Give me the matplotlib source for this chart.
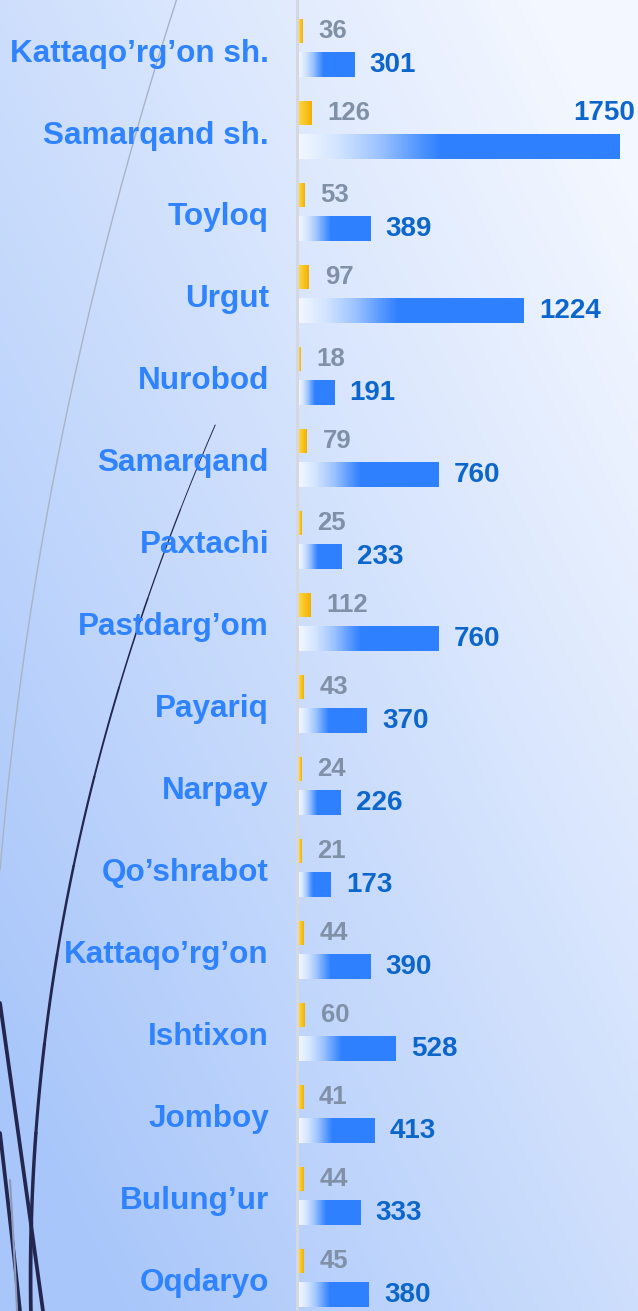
import numpy as np
import matplotlib
matplotlib.use("Agg")
import matplotlib.pyplot as plt
from matplotlib.colors import LinearSegmentedColormap

plt.rcParams['font.family'] = ['Liberation Sans', 'DejaVu Sans']
plt.rcParams['font.weight'] = 'bold'

# data
districts = ["Kattaqo’rg’on sh.", "Samarqand sh.", "Toyloq", "Urgut", "Nurobod",
             "Samarqand", "Paxtachi", "Pastdarg’om", "Payariq", "Narpay",
             "Qo’shrabot", "Kattaqo’rg’on", "Ishtixon", "Jomboy", "Bulung’ur", "Oqdaryo"]
small_vals = [36, 126, 53, 97, 18, 79, 25, 112, 43, 24, 21, 44, 60, 41, 44, 45]
big_vals = [301, 1750, 389, 1224, 191, 760, 233, 760, 370, 226, 173, 390, 528, 413, 333, 380]

W, H = 638, 1311
fig = plt.figure(figsize=(W / 100, H / 100), dpi=100)

# background gradient + decorative curves (pixel coords)
bg = fig.add_axes([0, 0, 1, 1], zorder=0)
yy, xx = np.mgrid[0:H:4, 0:W:4]
t = 0.6 * (yy / H) + 0.6 * (1 - xx / W) - 0.1
t = np.clip(t, 0, 1)[..., None]
light = np.array([243, 247, 255]) / 255
deep = np.array([168, 198, 250]) / 255
bg.imshow(light * (1 - t) + deep * t, extent=[0, W, H, 0], aspect='auto')
bg.set_xlim(0, W)
bg.set_ylim(H, 0)
bg.axis('off')

def curve(px, py, lw0, lw1, color, parts=10):
    ys = np.linspace(py[0], py[-1], 200)
    xs = np.polyval(np.polyfit(py, px, 2), ys)
    idx = np.linspace(0, len(ys) - 1, parts + 1).astype(int)
    for k in range(parts):
        a, b = idx[k], idx[k + 1] + 1
        bg.plot(xs[a:b], ys[a:b], color=color, solid_capstyle='round',
                lw=lw0 + (lw1 - lw0) * k / max(parts - 1, 1))

curve([177, 133, 70, 0], [0, 140, 400, 870], 1.0, 1.3, '#A9B3C6', parts=1)
curve([213, 173, 127, 90, 67, 47, 37, 33, 32],
      [425, 533, 667, 800, 900, 1000, 1100, 1200, 1311], 0.7, 2.7, '#23264F')
curve([0, 22, 43], [1003, 1160, 1311], 2.7, 2.7, '#23264F', parts=1)
curve([0, 10, 20], [1133, 1220, 1311], 2.7, 2.7, '#23264F', parts=1)
curve([10, 14, 17], [1180, 1250, 1311], 1.5, 1.5, '#8C9AB8', parts=1)

# main axes
ax = fig.add_axes([299 / W, 0, 339 / W, 1], zorder=1)
ax.patch.set_alpha(0)
ax2 = ax.twiny()
ax2.patch.set_alpha(0)

n = len(districts)
y = np.arange(n)
y_small = y - 0.23
y_big = y + 0.18

blue_cmap = LinearSegmentedColormap.from_list(
    'bb', [(0, '#F2F7FF'), (0.12, '#D2E4FF'), (0.25, '#9CC3FF'),
           (0.36, '#5A9BFF'), (0.44, '#2F80FF'), (1, '#2F80FF')])
gold_cmap = LinearSegmentedColormap.from_list('gg', ['#FFD640', '#F2B000'])
grad = np.linspace(0, 1, 256)[None, :]

big_bars = ax.barh(y_big, big_vals, height=0.30, color='none', edgecolor='none')
for b in big_bars:
    x0, y0, w, h = b.get_x(), b.get_y(), b.get_width(), b.get_height()
    im = ax.imshow(grad, extent=[x0, x0 + w, y0 + h, y0], aspect='auto',
                   cmap=blue_cmap, interpolation='bilinear', zorder=2)
    im.set_clip_path(b)

small_bars = ax2.barh(y_small, small_vals, height=0.29, color='none', edgecolor='none')
for b in small_bars:
    x0, y0, w, h = b.get_x(), b.get_y(), b.get_width(), b.get_height()
    im = ax2.imshow(grad, extent=[x0, x0 + w, y0 + h, y0], aspect='auto',
                    cmap=gold_cmap, interpolation='bilinear', zorder=2)
    im.set_clip_path(b)

ax.set_xlim(0, 339 / 0.1834)
ax2.set_xlim(0, 3390)
ax.set_ylim(15.38, -0.61)

imax = int(np.argmax(big_vals))
for i in range(n):
    if i == imax:
        ax.annotate(str(big_vals[i]), xy=(big_vals[i], y_small[i]), xytext=(11, 0),
                    textcoords='offset points', ha='right', va='center',
                    fontsize=20, color='#0C66CC')
    else:
        ax.annotate(str(big_vals[i]), xy=(big_vals[i], y_big[i]), xytext=(11, 0),
                    textcoords='offset points', ha='left', va='center',
                    fontsize=20, color='#0C66CC')
    ax2.annotate(str(small_vals[i]), xy=(small_vals[i], y_small[i]), xytext=(11.5, 0),
                 textcoords='offset points', ha='left', va='center',
                 fontsize=18.5, color='#8090A6')

ax.set_yticks(y, districts)
ax.tick_params(axis='y', length=0, pad=19.8, labelsize=22.7, labelcolor='#3083FF')
ax.set_xticks([])
ax2.set_xticks([])
for a in (ax, ax2):
    for s in ('top', 'right', 'bottom'):
        a.spines[s].set_visible(False)
ax2.spines['left'].set_visible(False)
ax.spines['left'].set_position(('outward', 1.8))
ax.spines['left'].set_color('#D5D8DE')
ax.spines['left'].set_linewidth(2.2)

fig.savefig('out.png', dpi=100)
